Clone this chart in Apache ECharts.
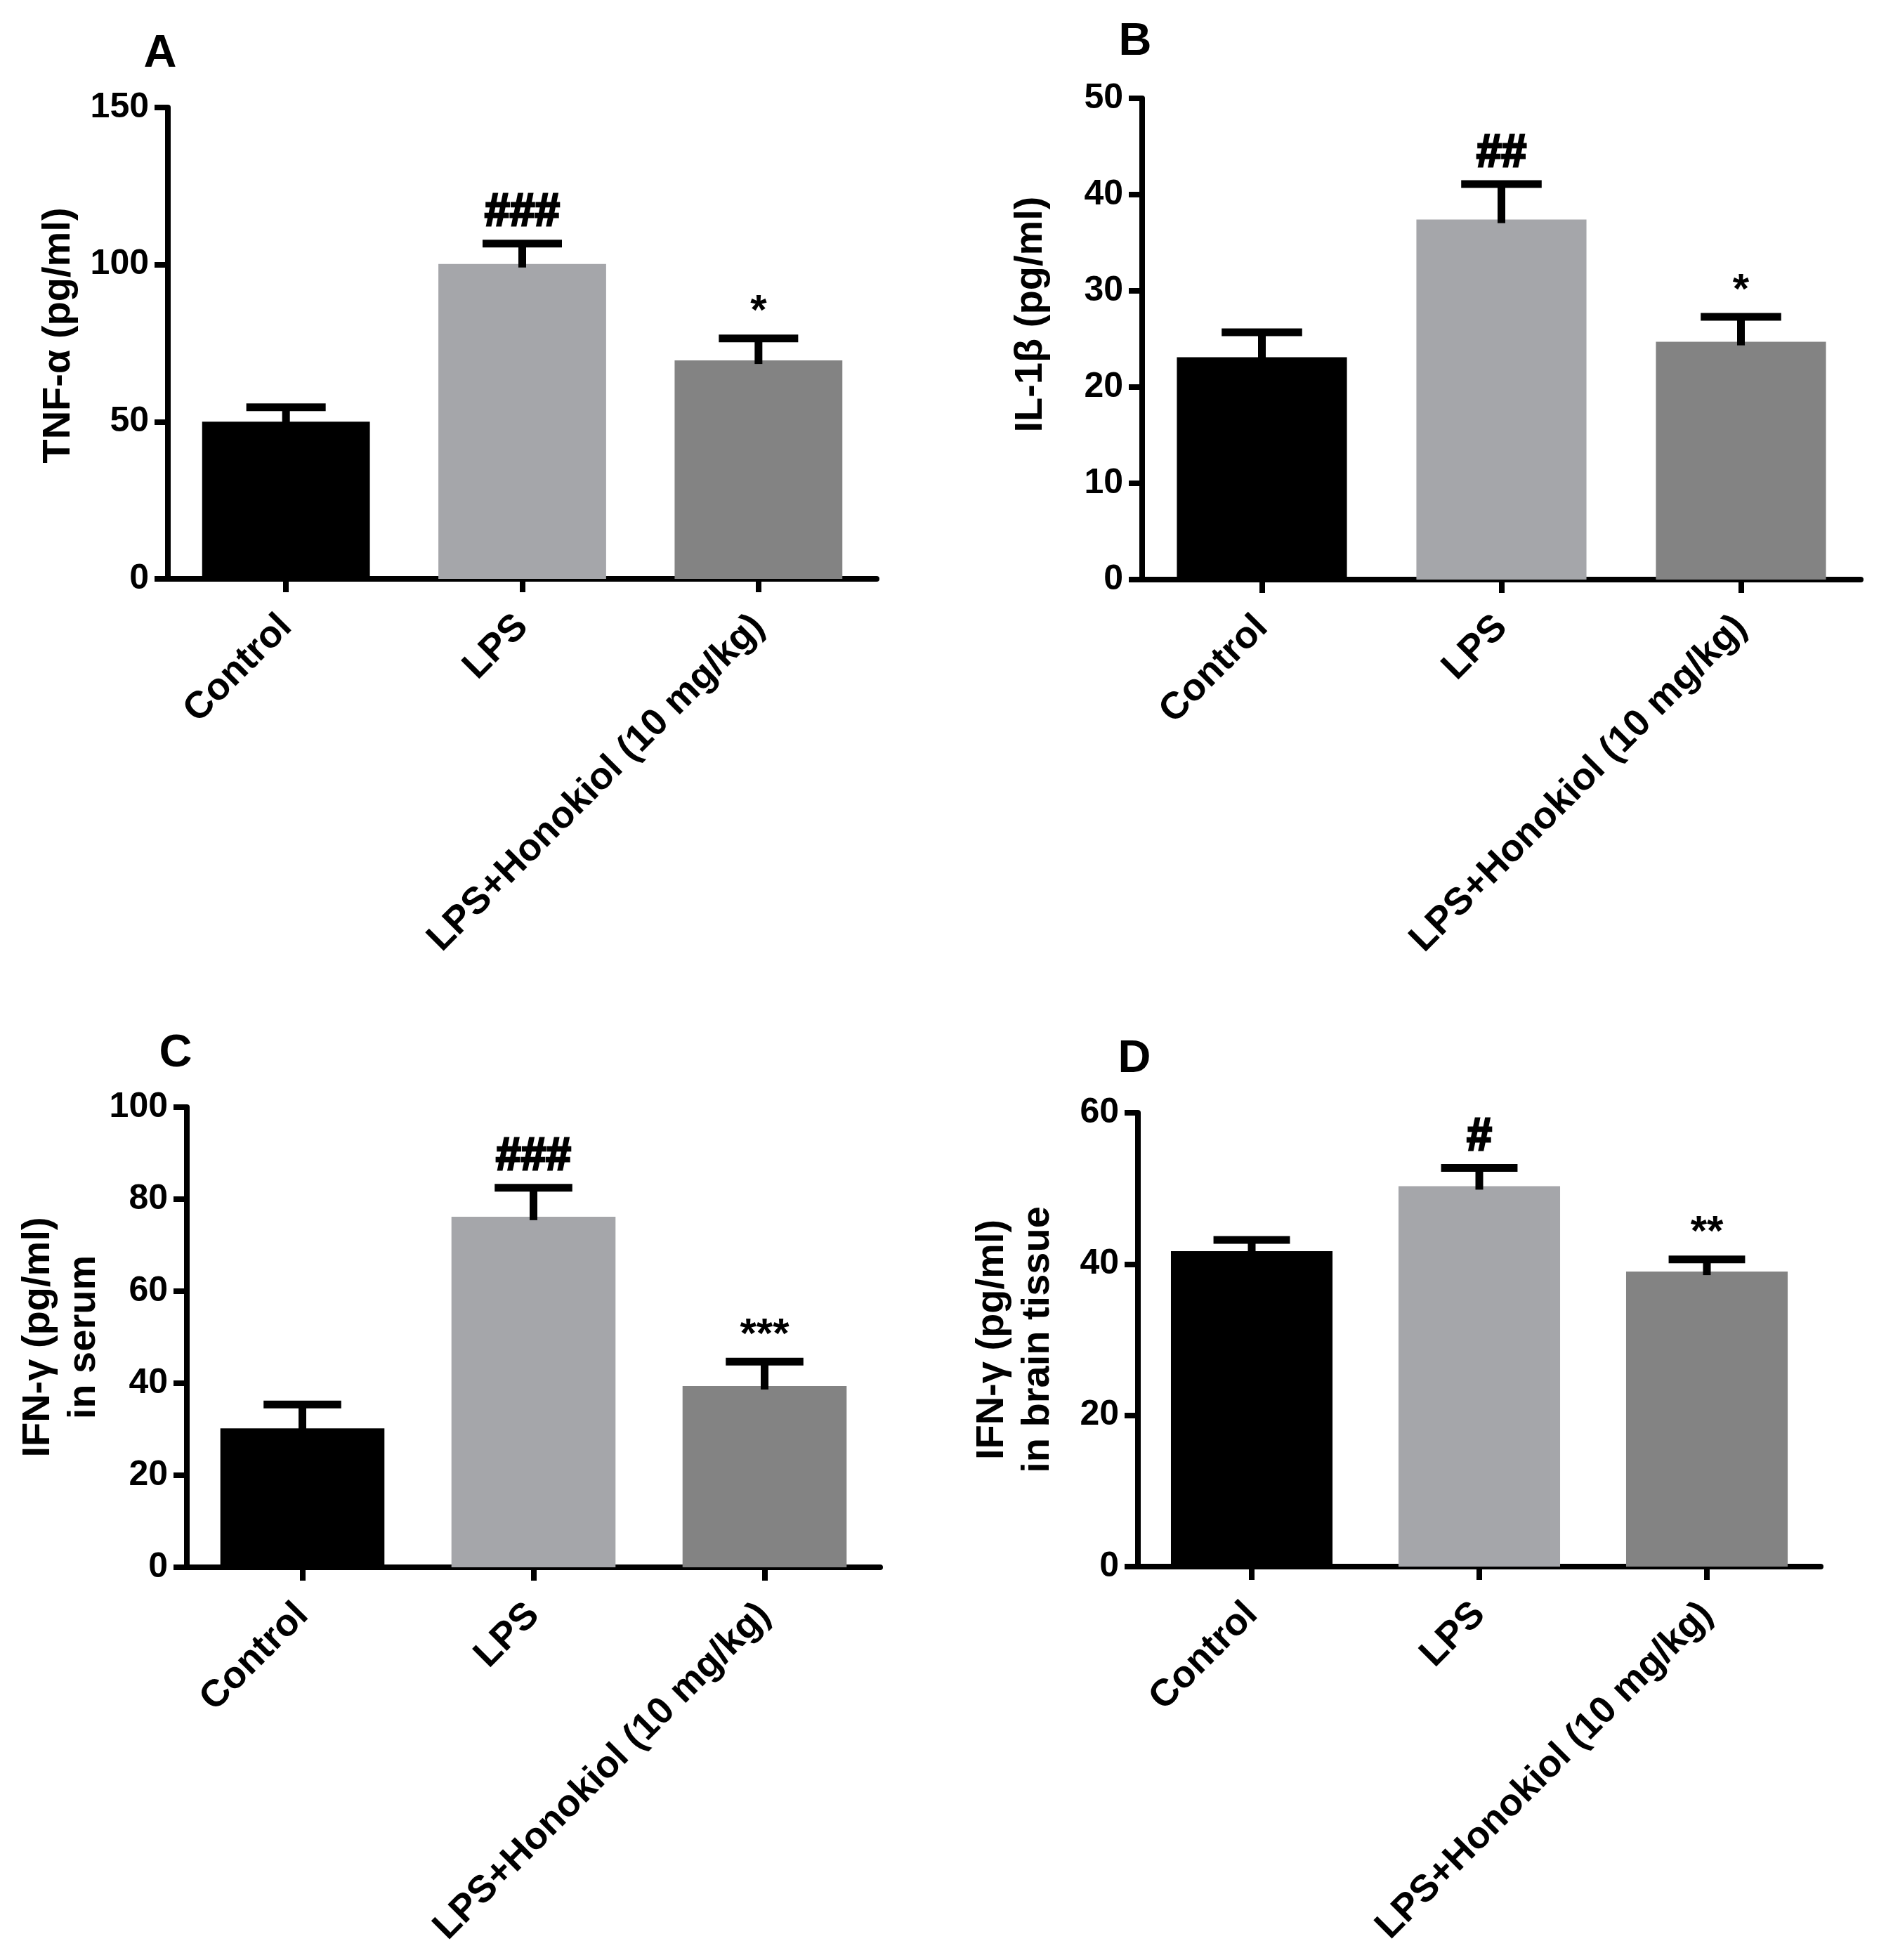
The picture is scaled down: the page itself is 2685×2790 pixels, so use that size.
<!DOCTYPE html>
<html>
<head>
<meta charset="UTF-8">
<script src="https://cdn.jsdelivr.net/npm/echarts@6/dist/echarts.min.js"></script>
<style>
  html, body { margin: 0; padding: 0; background: #fff; }
  #main { width: 2685px; height: 2790px; }
</style>
</head>
<body>
<div id="main"></div>
<script>
// groups (x axis)
var groups = ['Control', 'LPS', 'LPS+Honokiol (10 mg/kg)'];

// A - TNF-a
var tnfMean = [50.0, 100.2, 69.5];
var tnfErr  = [4.6, 6.5, 7.0];
var tnfSig  = ['', '###', '*'];
// B - IL-1b
var il1Mean = [23.1, 37.4, 24.7];
var il1Err  = [2.6, 3.7, 2.6];
var il1Sig  = ['', '##', '*'];
// C - IFN-g serum
var ifnSerumMean = [30.2, 76.2, 39.4];
var ifnSerumErr  = [5.2, 6.3, 5.3];
var ifnSerumSig  = ['', '###', '***'];
// D - IFN-g brain
var ifnBrainMean = [41.7, 50.3, 39.0];
var ifnBrainErr  = [1.5, 2.4, 1.6];
var ifnBrainSig  = ['', '#', '**'];

// y axis ranges [min, max, step]
var yA = [0, 150, 50];
var yB = [0, 50, 10];
var yC = [0, 100, 20];
var yD = [0, 60, 20];

var barColors = ['#000000', '#a5a6aa', '#838383'];
var FONT = '"Liberation Sans", Arial, Helvetica, sans-serif';

var grids = [
    {left: 239,  top: 153,  width: 1009, height: 671},
    {left: 1626, top: 140,  width: 1023, height: 685},
    {left: 266,  top: 1576, width: 987,  height: 655},
    {left: 1620, top: 1584, width: 972,  height: 646}
];

function xAx(idx) {
    return {
        type: 'category', gridIndex: idx, data: groups,
        axisLine: {show: true, lineStyle: {color: '#000', width: 8}},
        axisTick: {show: true, alignWithLabel: true, length: 19, lineStyle: {color: '#000', width: 8}},
        axisLabel: {
            interval: 0, rotate: 45, margin: 60, color: '#000',
            fontSize: 54, fontWeight: 'bold', fontFamily: FONT
        },
        splitLine: {show: false}
    };
}

function yAx(idx, range, name, gap, shift) {
    return {
        type: 'value', gridIndex: idx,
        min: range[0], max: range[1], interval: range[2],
        name: name, nameLocation: 'middle', nameGap: gap,
        nameTextStyle: {color: '#000', fontSize: 56, fontWeight: 'bold', fontFamily: FONT,
                        lineHeight: 65, padding: [0, 0, 0, shift]},
        axisLine: {show: true, lineStyle: {color: '#000', width: 8}},
        axisTick: {show: true, length: 19, lineStyle: {color: '#000', width: 8}},
        axisLabel: {margin: 27, color: '#000', fontSize: 50, fontWeight: 'bold', fontFamily: FONT},
        splitLine: {show: false}
    };
}

function barSeries(idx, mean) {
    return {
        type: 'bar', xAxisIndex: idx, yAxisIndex: idx,
        barCategoryGap: '29%',
        data: mean.map(function (v, i) {
            return {value: v, itemStyle: {color: barColors[i]}};
        }),
        silent: true
    };
}

function errSeries(idx, mean, err, sig) {
    return {
        type: 'custom', xAxisIndex: idx, yAxisIndex: idx, z: 5,
        data: mean.map(function (v, i) { return [i, v, err[i]]; }),
        renderItem: function (params, api) {
            var i = api.value(0);
            var base = api.coord([i, api.value(1)]);
            var top = api.coord([i, api.value(1) + api.value(2)]);
            var band = api.size([1, 0])[0];
            var half = band * 0.168;
            var children = [
                {type: 'line', shape: {x1: base[0], y1: base[1] + 5, x2: top[0], y2: top[1]},
                 style: {stroke: '#000', lineWidth: 11}},
                {type: 'line', shape: {x1: top[0] - half, y1: top[1], x2: top[0] + half, y2: top[1]},
                 style: {stroke: '#000', lineWidth: 11}}
            ];
            var s = sig[params.dataIndex];
            if (s) {
                var hash = s.indexOf('#') >= 0;
                children.push({
                    type: 'text', x: top[0], y: top[1] - (hash ? 11 : 7),
                    style: {text: s, fill: '#000', fontSize: hash ? 64 : 60, fontWeight: 'bold',
                            stroke: hash ? '#000' : null, lineWidth: hash ? 3 : 0,
                            fontFamily: FONT, align: 'center', verticalAlign: 'bottom'}
                });
            }
            return {type: 'group', children: children};
        }
    };
}

function letter(t, x, y) {
    return {type: 'text', x: x, y: y,
        style: {text: t, fill: '#000', fontSize: 65, fontWeight: 'bold', fontFamily: FONT,
                align: 'center', verticalAlign: 'middle'}};
}

var chart = echarts.init(document.getElementById('main'), null, {renderer: 'canvas'});
chart.setOption({
    backgroundColor: '#fff',
    animation: false,
    grid: grids,
    xAxis: [xAx(0), xAx(1), xAx(2), xAx(3)],
    yAxis: [
        yAx(0, yA, 'TNF-α (pg/ml)', 123, 22),
        yAx(1, yB, 'IL-1β (pg/ml)', 126, 70),
        yAx(2, yC, 'IFN-γ (pg/ml)\nin serum', 106, 0),
        yAx(3, yD, 'IFN-γ (pg/ml)\nin brain tissue', 110, 0)
    ],
    series: [
        barSeries(0, tnfMean), errSeries(0, tnfMean, tnfErr, tnfSig),
        barSeries(1, il1Mean), errSeries(1, il1Mean, il1Err, il1Sig),
        barSeries(2, ifnSerumMean), errSeries(2, ifnSerumMean, ifnSerumErr, ifnSerumSig),
        barSeries(3, ifnBrainMean), errSeries(3, ifnBrainMean, ifnBrainErr, ifnBrainSig)
    ],
    graphic: [
        letter('A', 228, 77),
        letter('B', 1616, 60),
        letter('C', 250, 1500),
        letter('D', 1615, 1508)
    ]
});
</script>
</body>
</html>
